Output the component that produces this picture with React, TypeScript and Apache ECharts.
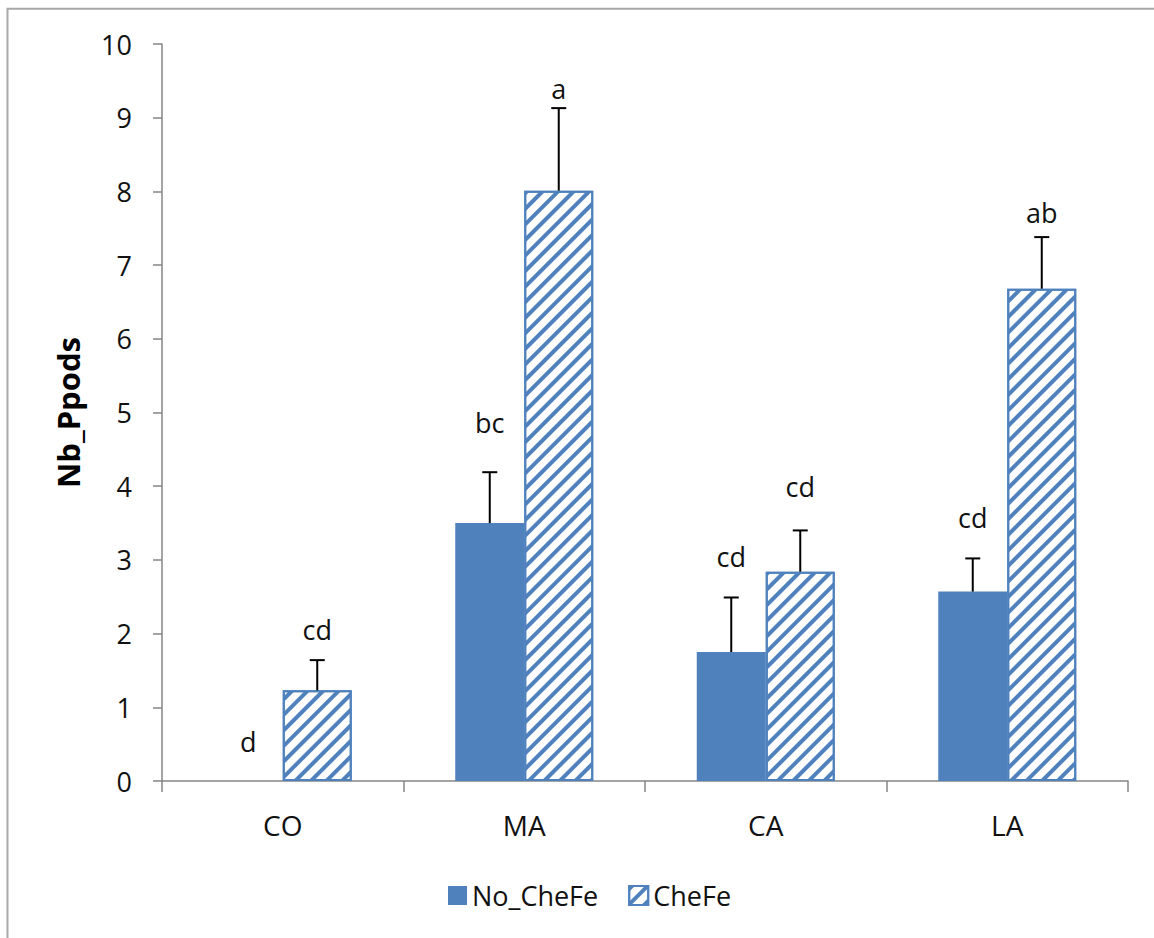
import { useEffect, useRef } from 'react';
import * as echarts from 'echarts';

const categories = ['CO', 'MA', 'CA', 'LA'];
const seriesNames = ['No_CheFe', 'CheFe'];
const noCheFe = [0, 3.5, 1.75, 2.57];
const cheFe = [1.23, 8.01, 2.84, 6.68];
const noCheFeErrTop = [0, 4.19, 2.49, 3.02];
const cheFeErrTop = [1.64, 9.13, 3.4, 7.38];
const noCheFeLetters = ['d', 'bc', 'cd', 'cd'];
const cheFeLetters = ['cd', 'a', 'cd', 'ab'];
const noCheFeLetterY = [0.53, 4.86, 3.05, 3.57];
const cheFeLetterY = [2.06, 9.39, 4.0, 7.71];

const BLUE = '#4F81BD';
const AXIS = '#868686';
const FONT = '"Open Sans", "Noto Sans", sans-serif';
const BAR_W = 69;
const FS = 27;

function makeErr(
  values: number[],
  tops: number[],
  letters: string[],
  letterY: number[],
  side: number
) {
  return {
    type: 'custom',
    name: 'err' + side,
    silent: true,
    z: 5,
    data: values.map((v, i) => [i, v, tops[i]]),
    encode: { x: 0, y: [1, 2] },
    renderItem: (params: any, api: any) => {
      const i = api.value(0);
      const v = api.value(1);
      const t = api.value(2);
      const base = api.coord([i, v]);
      const top = api.coord([i, t]);
      const lab = api.coord([i, letterY[params.dataIndex]]);
      const x = base[0] + (side * BAR_W) / 2;
      const children: any[] = [];
      if (t > v) {
        children.push({
          type: 'line',
          shape: { x1: x, y1: base[1], x2: x, y2: top[1] },
          style: { stroke: '#000', lineWidth: 2 },
        });
        children.push({
          type: 'line',
          shape: { x1: x - 7.5, y1: top[1], x2: x + 7.5, y2: top[1] },
          style: { stroke: '#000', lineWidth: 2 },
        });
      }
      children.push({
        type: 'text',
        x,
        y: lab[1],
        style: {
          text: letters[params.dataIndex],
          fill: '#111',
          font: FS + 'px ' + FONT,
          align: 'center',
          verticalAlign: 'middle',
        },
      });
      return { type: 'group', children };
    },
  };
}

export default function App() {
  const ref = useRef<HTMLDivElement>(null);
  useEffect(() => {
    if (!ref.current) return;
    const chart = echarts.init(ref.current, undefined, { renderer: 'svg' });
    chart.setOption({
      animation: false,
      backgroundColor: '#fff',
      textStyle: { fontFamily: FONT },
      graphic: [
        {
          type: 'rect',
          shape: { x: 7.5, y: 8.75, width: 1300, height: 1100 },
          style: { fill: 'none', stroke: '#a8a8a8', lineWidth: 2 },
          silent: true,
        },
      ],
      grid: { left: 162, right: 26, top: 44, bottom: 157, containLabel: false },
      legend: {
        data: seriesNames,
        left: 443,
        top: 877,
        itemWidth: 19,
        itemHeight: 19,
        itemGap: 30,
        icon: 'rect',
        textStyle: { fontSize: FS, color: '#111', fontFamily: FONT },
      },
      xAxis: {
        type: 'category',
        data: categories,
        axisLine: { lineStyle: { color: AXIS, width: 1.5 } },
        axisTick: { show: true, length: 11, lineStyle: { color: AXIS, width: 1.5 } },
        axisLabel: { color: '#111', fontSize: FS + 1, margin: 30, fontFamily: FONT },
      },
      yAxis: {
        type: 'value',
        min: 0,
        max: 10,
        interval: 1,
        name: 'Nb_Ppods',
        nameLocation: 'middle',
        nameGap: 79,
        nameTextStyle: { fontSize: 31, fontWeight: 'bold', color: '#000', fontFamily: FONT },
        axisLine: { show: true, lineStyle: { color: AXIS, width: 1.5 } },
        axisTick: { show: true, length: 9, lineStyle: { color: AXIS, width: 1.5 } },
        splitLine: { show: false },
        axisLabel: { color: '#111', fontSize: FS, margin: 30, fontFamily: FONT },
      },
      series: [
        {
          type: 'bar',
          name: seriesNames[0],
          data: noCheFe,
          barWidth: BAR_W,
          barGap: '0%',
          itemStyle: { color: BLUE },
        },
        {
          type: 'bar',
          name: seriesNames[1],
          data: cheFe,
          barWidth: BAR_W,
          barGap: '0%',
          itemStyle: {
            color: '#fff',
            borderColor: BLUE,
            borderWidth: 2,
            decal: {
              symbol: 'rect',
              symbolSize: 1,
              color: BLUE,
              backgroundColor: '#fff',
              dashArrayX: [1, 0],
              dashArrayY: [4, 7],
              rotation: -Math.PI / 4,
            },
          },
        },
        makeErr(noCheFe, noCheFeErrTop, noCheFeLetters, noCheFeLetterY, -1),
        makeErr(cheFe, cheFeErrTop, cheFeLetters, cheFeLetterY, 1),
      ],
    });
    return () => chart.dispose();
  }, []);
  return (
    <div
      ref={ref}
      style={{ position: 'fixed', left: 0, top: 0, width: 1154, height: 938 }}
    />
  );
}
